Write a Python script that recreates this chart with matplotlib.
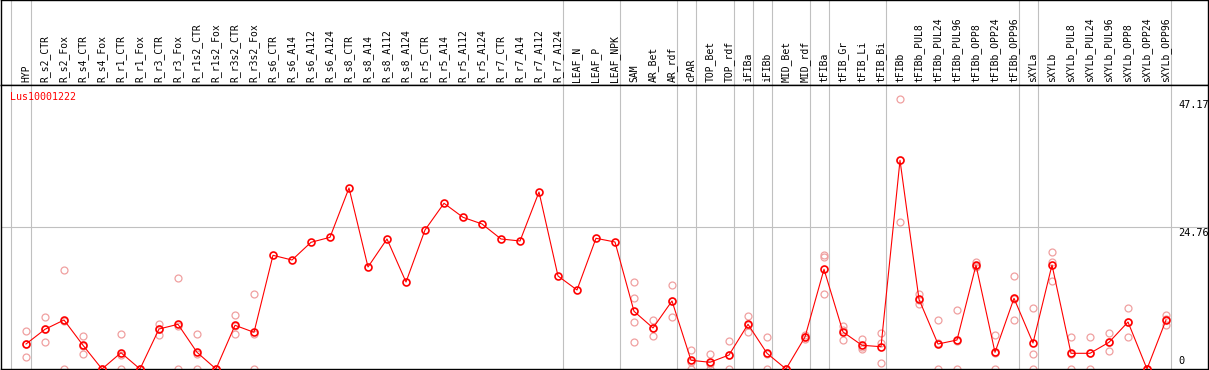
import numpy as np
import matplotlib
matplotlib.use("Agg")
import matplotlib.pyplot as plt

# category labels
categories = ["HYP", "R_s2_CTR", "R_s2_Fox", "R_s4_CTR", "R_s4_Fox", "R_r1_CTR", "R_r1_Fox",
              "R_r3_CTR", "R_r3_Fox", "R_r1s2_CTR", "R_r1s2_Fox", "R_r3s2_CTR", "R_r3s2_Fox",
              "R_s6_CTR", "R_s6_A14", "R_s6_A112", "R_s6_A124", "R_s8_CTR", "R_s8_A14",
              "R_s8_A112", "R_s8_A124", "R_r5_CTR", "R_r5_A14", "R_r5_A112", "R_r5_A124",
              "R_r7_CTR", "R_r7_A14", "R_r7_A112", "R_r7_A124", "LEAF_N", "LEAF_P", "LEAF_NPK",
              "SAM", "AR_Bet", "AR_rdf", "cPAR", "TOP_Bet", "TOP_rdf", "iFIBa", "iFIBb",
              "MID_Bet", "MID_rdf", "tFIBa", "tFIB_Gr", "tFIB_Li", "tFIB_Bi", "tFIBb",
              "tFIBb_PUL8", "tFIBb_PUL24", "tFIBb_PUL96", "tFIBb_OPP8", "tFIBb_OPP24",
              "tFIBb_OPP96", "sXYLa", "sXYLb", "sXYLb_PUL8", "sXYLb_PUL24", "sXYLb_PUL96",
              "sXYLb_OPP8", "sXYLb_OPP24", "sXYLb_OPP96"]

# mean expression (red line)
means = [4.36, 6.93, 8.55, 4.14, 0, 2.84, 0, 6.98, 7.80, 2.91, 0, 7.63, 6.40,
         19.84, 19.02, 22.11, 22.98, 31.59, 17.80, 22.69, 15.18, 24.26, 28.92, 26.47, 25.31,
         22.69, 22.34, 30.89, 16.23, 13.79, 22.81, 22.16,
         10.07, 7.16, 11.87, 1.52, 1.17, 2.44, 7.80, 2.74, 0, 5.58, 17.40, 6.46, 4.14, 3.89,
         36.42, 12.16, 4.36, 5.06, 18.10, 2.91, 12.34, 4.54, 18.15, 2.74, 2.74, 4.66,
         8.20, 0, 8.55]

# replicates (pale circles)
reps = [[6.63, 2.03, 4.44], [9.07, 4.66, 7.05], [17.22, 0, 8.45], [5.76, 2.62, 4.03],
        [0, 0, 0], [6.05, 0, 2.49], [0, 0, 0], [7.91, 6.00, 7.03], [15.82, 0, 7.58],
        [6.05, 0, 2.69], [0, 0, 0], [9.37, 6.05, 7.48], [13.03, 0, 6.17],
        [], [], [], [], [], [], [], [], [], [], [], [], [], [], [], [], [], [], [],
        [15.13, 12.33, 8.20, 4.66], [8.50, 5.76, 7.22], [14.60, 9.07, 11.94],
        [3.32, 0, 1.24], [2.62, 0, 0.89], [4.83, 0, 2.49], [9.20, 6.46, 7.74],
        [5.58, 0, 2.64], [0, 0, 0], [5.18, 5.93, 5.63], [19.90, 19.60, 13.03],
        [7.50, 5.00, 6.88], [5.18, 3.43, 3.78], [6.28, 4.60, 1.00],
        [47.17, 25.60, 36.49], [13.05, 11.40, 12.03], [8.60, 0, 4.48], [10.30, 0, 4.88],
        [18.65, 17.90, 17.75], [6.02, 0, 2.71], [16.17, 8.55, 12.30], [10.70, 2.55, 0],
        [20.47, 15.35, 18.63], [5.67, 0, 2.55], [5.50, 0, 2.72], [6.20, 3.13, 4.65],
        [10.70, 5.67, 8.23], [0, 0, 0], [9.37, 7.60, 8.68]]

# groups end after these categories (gray separators)
group_ends = ["HYP", "R_r7_A124", "LEAF_NPK", "AR_rdf", "cPAR", "TOP_rdf", "iFIBa", "iFIBb",
              "MID_rdf", "tFIBa", "tFIB_Bi", "tFIBb_OPP96", "sXYLa", "sXYLb_OPP96"]

yticks = [0, 24.76, 47.17]
gene = "Lus10001222"

W, H = 1209, 370
fig = plt.figure(figsize=(W / 100, H / 100), dpi=100)
mono = "DejaVu Sans Mono"

def px(x0, y0, x1, y1):
    return [x0 / W, 1 - y1 / H, (x1 - x0) / W, (y1 - y0) / H]

xlim = ((1 - 26) / 19, (1208 - 26) / 19)
ax_h = fig.add_axes(px(1, 0, 1208, 85))
ax = fig.add_axes(px(1, 85, 1208, 369))

x = np.arange(len(categories))
sep = [-0.81] + [categories.index(c) + 0.24 for c in group_ends]

for a in (ax_h, ax):
    a.set_xlim(*xlim)
    a.set_xticks([])
    a.set_yticks([])
    for s in a.spines.values():
        s.set_color("black")
        s.set_linewidth(1.0)
    for xs in sep:
        a.axvline(xs, color="#c0c0c0", lw=0.8, zorder=0)

ax_h.set_ylim(0, 1)
for i, c in enumerate(categories):
    ax_h.text(i, 0.035, c, rotation=90, ha="center", va="bottom",
              family=mono, fontsize=7, color="black")

ymax = 49.56
ax.set_ylim(0, ymax)
ax.axhline(24.76, color="#c0c0c0", lw=0.8, zorder=0)

for i, r in enumerate(reps):
    if r:
        ax.plot([i] * len(r), r, "o", ls="none", mfc="none", mec="#f0a0a0",
                ms=5, mew=0.9, zorder=2)

ax.plot(x, means, "-", color="red", lw=0.8, zorder=3)
ax.plot(x, means, "o", ls="none", mfc="none", mec="red", ms=5, mew=1.2, zorder=4)

ax.text(-0.84, 47.45, gene, color="red", family=mono, fontsize=7.2, ha="left", va="center")

xt = (1178 - 26) / 19
for v in yticks:
    if v == 0:
        ax.text(xt, 0.6, "0", family=mono, fontsize=7.4, ha="left", va="bottom")
    else:
        ax.text(xt, v - 0.2, "%.2f" % v, family=mono, fontsize=7.4, ha="left", va="top")

fig.savefig("out.png", dpi=100)
